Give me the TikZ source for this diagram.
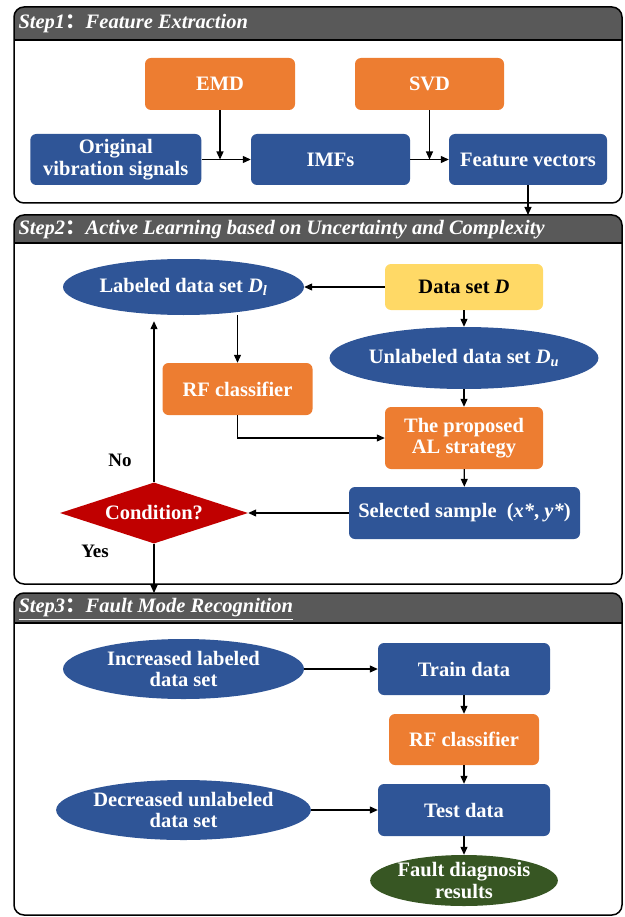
\documentclass[tikz,border=0pt]{standalone}
\usepackage{fontspec}
\setmainfont{Liberation Serif}
\newfontfamily\cjkfont{Noto Sans CJK SC}
\definecolor{mainblue}{RGB}{47, 85, 151}
\definecolor{mainorange}{RGB}{237, 125, 49}
\definecolor{mainyellow}{RGB}{255, 217, 102}
\definecolor{mainred}{RGB}{192, 0, 0}
\definecolor{maingreen}{RGB}{55, 86, 35}
\definecolor{headgray}{RGB}{89, 89, 89}
\newcommand{\fwcolon}{{\cjkfont ：}}
\usetikzlibrary{shapes.geometric, arrows.meta, positioning, calc}

\begin{document}
\begin{tikzpicture}[x=1pt, y=-1pt,
            font=\fontsize{20.5}{21.5}\selectfont\bfseries,
            block/.style={rounded corners=6pt, align=center, text=white, inner sep=0pt},
            blueblock/.style={block, fill=mainblue},
            orangeblock/.style={block, fill=mainorange},
            yellowblock/.style={block, fill=mainyellow, text=black},
            setellipse/.style={ellipse, fill=mainblue, text=white, align=center, inner sep=0pt, minimum width=241pt},
            frame/.style={draw=black, line width=1.5pt},
            headtext/.style={anchor=west, text=white, font=\fontsize{20.5}{21}\selectfont\bfseries\itshape},
            arr/.style={-{Triangle[length=8pt, width=7pt]}, line width=1.1pt}
        ]
            \useasboundingbox (0,0) rectangle (624,917);
            % step frames with dark header bars
            \foreach \top/\head/\bot in {7/40/203, 215/243/584, 593/623/915} {
                \begin{scope}
                    \clip[rounded corners=10pt] (14,\top) rectangle (622,\bot);
                    \fill[headgray] (14,\top) rectangle (622,\head);
                \end{scope}
                \draw[frame] (14,\head) -- (622,\head);
                \draw[frame, rounded corners=10pt] (14,\top) rectangle (622,\bot);
            }
            \node[headtext] (h1) at (15,24) {Step1\fwcolon Feature Extraction};
            \node[headtext] (h2) at (15,230) {Step2\fwcolon Active Learning based on Uncertainty and Complexity};
            \node[headtext] (h3) at (15,609) {\underline{Step3\fwcolon Fault Mode Recognition}};

            % Step 1
            \node[orangeblock, minimum width=150pt, minimum height=52pt] (emd) at (220,84) {EMD};
            \node[orangeblock, minimum width=149pt, minimum height=52pt] (svd) at (429.5,84) {SVD};
            \node[blueblock, minimum width=171pt, minimum height=51pt] (orig) at (115.8,159.5) {Original\\vibration signals};
            \node[blueblock, minimum width=159pt, minimum height=51pt] (imfs) at (330.5,159.5) {IMFs};
            \node[blueblock, minimum width=158pt, minimum height=51pt] (fv) at (528,159.5) {Feature vectors};
            \coordinate (s2top) at (528,215);
            \draw[arr] (orig) -- (imfs);
            \draw[arr] (imfs) -- (fv);
            \draw[arr] (emd.south) -- (emd.south |- imfs.west);
            \draw[arr] (svd.south) -- (svd.south |- fv.west);
            \draw[arr] (fv.south) -- (s2top);

            % Step 2
            \node[setellipse, minimum height=56pt] (lab) at (183.5,287) {Labeled data set {\itshape D\textsubscript{l}}};
            \node[yellowblock, minimum width=158pt, minimum height=46pt] (data) at (464,287) {Data set {\itshape D}};
            \node[setellipse, minimum width=242pt, minimum height=62pt] (unl) at (464,358) {Unlabeled data set {\itshape D\textsubscript{u}}};
            \node[orangeblock, minimum width=150pt, minimum height=52pt] (rf) at (237.5,389) {RF classifier};
            \node[orangeblock, minimum width=158pt, minimum height=62pt] (prop) at (464,438) {The proposed\\AL strategy};
            \node[blueblock, minimum width=231pt, minimum height=52pt] (sel) at (464.5,513) {Selected sample\ \ (\textit{x*}, \textit{y*})};
            \node[diamond, fill=mainred, text=white, inner sep=0pt, aspect=2.5, minimum width=188pt, minimum height=61pt] (cond) at (154,513) {Condition?};
            \node[font=\fontsize{19}{20}\selectfont\bfseries] (no) at (120,460) {No};
            \node[font=\fontsize{19}{20}\selectfont\bfseries] (yes) at (95,551) {Yes};
            \coordinate (s3top) at (154,593);
            \draw[arr] (data) -- (lab);
            \draw[arr] (data) -- (unl);
            \draw[arr] (lab.south -| rf.north) -- (rf.north);
            \draw[arr] (unl) -- (prop);
            \draw[arr] (rf.south) |- (prop.west);
            \draw[arr] (prop) -- (sel);
            \draw[arr] (sel) -- (cond);
            \draw[arr] (cond.north) -- ([yshift=-6pt]lab.south -| cond.north);
            \draw[arr] (cond.south) -- (s3top);

            % Step 3
            \node[setellipse, minimum height=60pt] (inc) at (183.5,669) {Increased labeled\\data set};
            \node[blueblock, minimum width=172pt, minimum height=52pt] (train) at (464,669) {Train data};
            \node[orangeblock, minimum width=150pt, minimum height=51pt] (rf2) at (464,739.5) {RF classifier};
            \node[blueblock, minimum width=172pt, minimum height=52pt] (test) at (464,810) {Test data};
            \node[setellipse, minimum height=60pt] (dec) at (183.5,810) {Decreased unlabeled\\data set};
            \node[ellipse, fill=maingreen, text=white, align=center, inner sep=0pt, minimum width=184pt, minimum height=51pt] (fault) at (464,880.5) {Fault diagnosis\\results};
            \draw[arr] (inc) -- (train);
            \draw[arr] (train) -- (rf2);
            \draw[arr] (rf2) -- (test);
            \draw[arr] (dec) -- (test);
            \draw[arr] (test) -- (fault);
        \end{tikzpicture}
\end{document}
